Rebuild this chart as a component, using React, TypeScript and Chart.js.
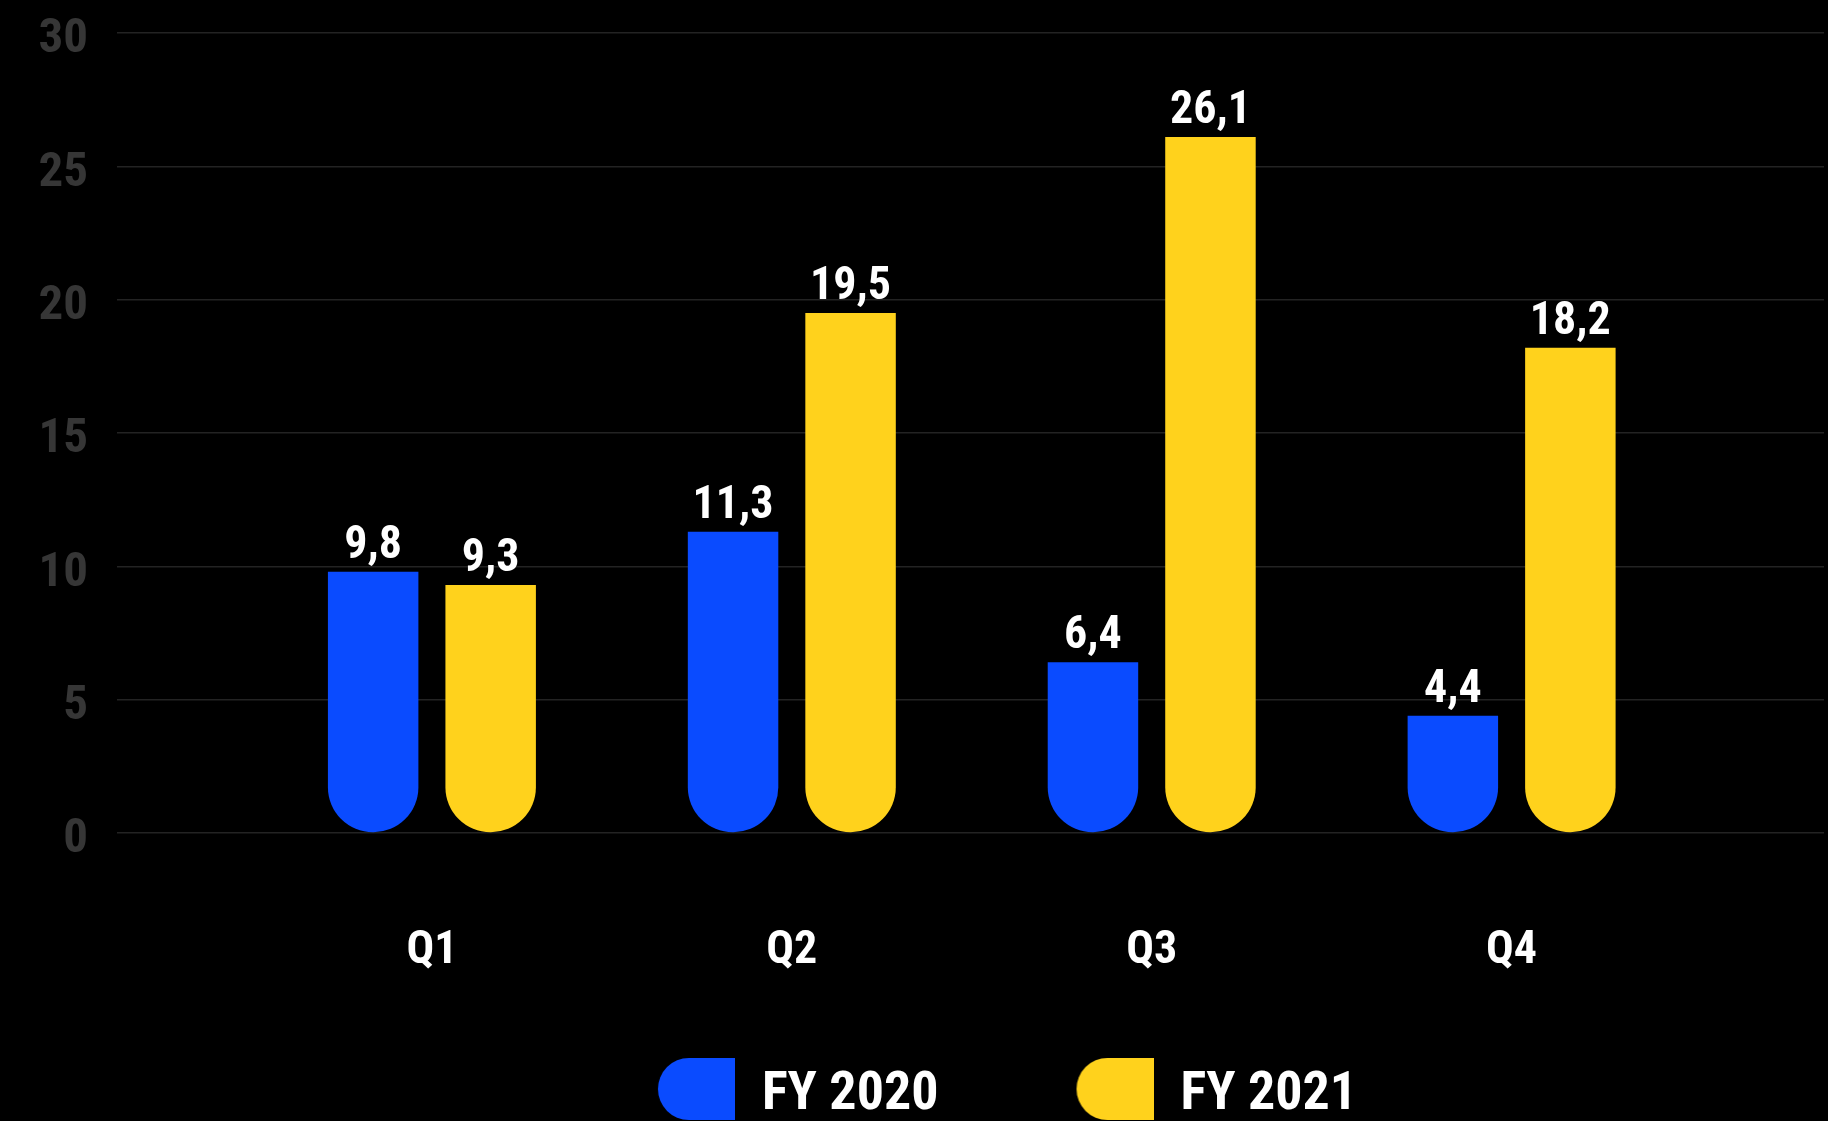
import React, { useEffect, useRef } from 'react';
import { Chart, registerables } from 'chart.js';

Chart.register(...registerables);

// ---- data ----
const quarters = ['Q1', 'Q2', 'Q3', 'Q4'];
const seriesNames = ['FY 2020', 'FY 2021'];
const fy2020 = [9.8, 11.3, 6.4, 4.4];
const fy2021 = [9.3, 19.5, 26.1, 18.2];
const yMin = 0;
const yMax = 30;
const yStep = 5;

// ---- styling ----
const BLUE = '#0A4BFF';
const YELLOW = '#FFD21C';
const FONT = "'Roboto Condensed', 'Liberation Sans Narrow', 'DejaVu Sans Condensed', Roboto, sans-serif";
const LEGEND_CENTER_X = 983;
const LEGEND_FONT = 54;
const LEG_MARGIN = 49; // transparent space before each legend swatch
const SW_W = 77;
const SW_H = 62;

const fmt = (v: number) => v.toFixed(1).replace('.', ',');

function makeSwatch(color: string) {
  const c = document.createElement('canvas');
  c.width = SW_W + LEG_MARGIN;
  c.height = SW_H + 12;
  const g = c.getContext('2d')!;
  const x = LEG_MARGIN, y = 0, w = SW_W, h = SW_H, r = SW_H / 2;
  g.fillStyle = color;
  g.beginPath();
  g.moveTo(x + r, y);
  g.lineTo(x + w, y);
  g.lineTo(x + w, y + h);
  g.lineTo(x + r, y + h);
  g.arc(x + r, y + r, r, Math.PI / 2, Math.PI * 1.5);
  g.closePath();
  g.fill();
  return c;
}

const valueLabels = {
  id: 'valueLabels',
  afterDatasetsDraw(chart: any) {
    const ctx = chart.ctx;
    ctx.save();
    ctx.font = `bold 46px ${FONT}`;
    ctx.fillStyle = '#ffffff';
    ctx.textAlign = 'center';
    ctx.textBaseline = 'alphabetic';
    chart.data.datasets.forEach((ds: any, di: number) => {
      const meta = chart.getDatasetMeta(di);
      meta.data.forEach((el: any, i: number) => {
        const v = ds.data[i].y;
        ctx.fillText(fmt(v), el.x, el.y - 14);
      });
    });
    ctx.restore();
  },
};

const legendShift = {
  id: 'legendShift',
  afterLayout(chart: any) {
    const lg = chart.legend;
    if (!lg) return;
    const half = (lg.right - lg.left) / 2;
    lg.left = LEGEND_CENTER_X - half;
    lg.right = LEGEND_CENTER_X + half;
  },
};

export default function App() {
  const ref = useRef<HTMLCanvasElement | null>(null);

  useEffect(() => {
    if (!ref.current) return;
    const toPoints = (arr: number[]) => arr.map((y, i) => ({ x: i, y }));
    const colors = [BLUE, YELLOW];
    const swatches = colors.map(makeSwatch);
    const barStyle = {
      borderWidth: 0,
      borderSkipped: false as const,
      borderRadius: { topLeft: 0, topRight: 0, bottomLeft: 45, bottomRight: 45 },
      categoryPercentage: 0.653,
      barPercentage: 0.77,
    };
    const chart = new Chart(ref.current, {
      type: 'bar',
      data: {
        datasets: [
          { label: seriesNames[0], data: toPoints(fy2020), backgroundColor: colors[0], ...barStyle },
          { label: seriesNames[1], data: toPoints(fy2021), backgroundColor: colors[1], ...barStyle },
        ],
      },
      options: {
        responsive: false,
        devicePixelRatio: 1,
        animation: false,
        layout: { autoPadding: false, padding: { top: 33, right: 4, bottom: -11, left: 0 } },
        scales: {
          x: {
            type: 'linear',
            position: 'bottom',
            min: -0.875,
            max: 3.868,
            offset: false,
            bounds: 'data',
            grid: { display: false, drawTicks: false },
            border: { display: false },
            afterBuildTicks: (s: any) => {
              s.ticks = quarters.map((_, i) => ({ value: i }));
            },
            ticks: {
              autoSkip: false,
              maxRotation: 0,
              padding: 91,
              color: '#ffffff',
              font: { family: FONT, size: 46, weight: 'bold' },
              callback: (v: any) => (quarters[v] !== undefined ? quarters[v] : ''),
            },
            afterFit: (s: any) => { s.height = 146; s.paddingLeft = 0; s.paddingRight = 0; },
          },
          y: {
            min: yMin,
            max: yMax,
            grid: { color: '#232323', lineWidth: 1.5, drawTicks: false },
            border: { display: false },
            ticks: {
              stepSize: yStep,
              padding: 29,
              labelOffset: 7,
              color: '#363636',
              font: { family: FONT, size: 49, weight: 'bold' },
            },
            afterFit: (s: any) => { s.width = 117; s.paddingTop = 0; s.paddingBottom = 0; },
          },
        },
        plugins: {
          tooltip: { enabled: false },
          legend: {
            position: 'bottom',
            labels: {
              usePointStyle: true,
              pointStyleWidth: SW_W + LEG_MARGIN,
              padding: 89,
              color: '#ffffff',
              font: { family: FONT, size: LEGEND_FONT, weight: 'bold' },
              generateLabels: (c: any) => {
                const items = (Chart as any).defaults.plugins.legend.labels.generateLabels(c);
                return items.map((it: any, i: number) => ({ ...it, pointStyle: swatches[i], lineWidth: 0 }));
              },
            },
          },
        },
      } as any,
      plugins: [valueLabels, legendShift],
    });
    return () => chart.destroy();
  }, []);

  return (
    <div style={{ position: 'fixed', left: 0, top: 0, width: 1828, height: 1121, background: '#000' }}>
      <canvas ref={ref} width={1828} height={1121} style={{ display: 'block' }} />
    </div>
  );
}
